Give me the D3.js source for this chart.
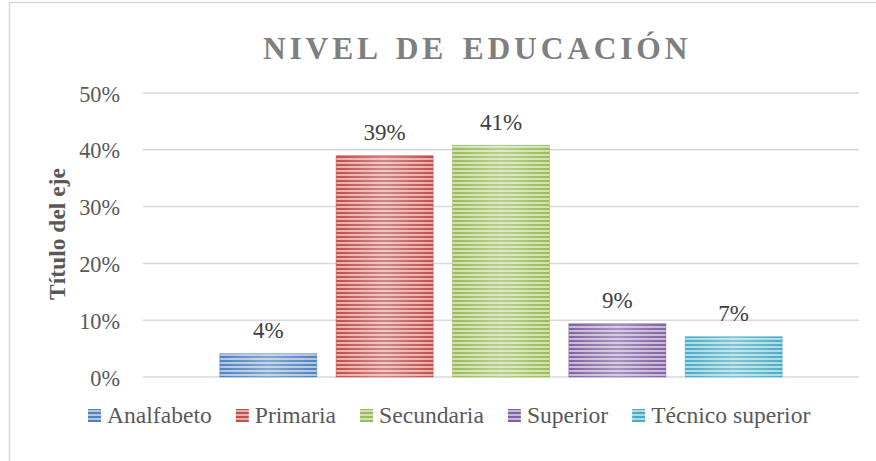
<html>
<meta charset="utf-8">
<body style="margin:0;background:#fff">
<script src="https://d3js.org/d3.v7.min.js"></script>
<div id="chart"></div>
<script>
// chart data
var series = ["Analfabeto", "Primaria", "Secundaria", "Superior", "Técnico superior"]
var values = [0.041, 0.39, 0.408, 0.094, 0.071]
var labels = ["4%", "39%", "41%", "9%", "7%"]
var colors = ["#4F81BD", "#C0504D", "#9BBB59", "#8064A2", "#4BACC6"]
var yTicks = [0, 0.1, 0.2, 0.3, 0.4, 0.5]

var width = 876, height = 461
var font = "'Liberation Serif', 'Times New Roman', Tinos, Times, serif"

var svg = d3.select("#chart").append("svg")
  .attr("width", width).attr("height", height)
  .style("font-family", font)

// outer chart border (cropped on the right and bottom)
svg.append("rect")
  .attr("x", 9.5).attr("y", 2.5)
  .attr("width", 900).attr("height", 500)
  .attr("fill", "none").attr("stroke", "#d9d9d9").attr("stroke-width", 1.5)

var defs = svg.append("defs")
colors.forEach(function(c, i) {
  var p = defs.append("pattern")
    .attr("id", "stripe" + i)
    .attr("patternUnits", "userSpaceOnUse")
    .attr("width", 8).attr("height", 4)
  p.append("rect").attr("width", 8).attr("height", 4)
    .attr("fill", d3.interpolateRgb(c, "#fff")(0.55))
  p.append("rect").attr("width", 8).attr("height", 2).attr("fill", c)
})
var glow = defs.append("linearGradient").attr("id", "glow")
  .attr("x1", 0).attr("x2", 1).attr("y1", 0).attr("y2", 0)
glow.append("stop").attr("offset", 0).attr("stop-color", "#fff").attr("stop-opacity", 0)
glow.append("stop").attr("offset", 0.5).attr("stop-color", "#fff").attr("stop-opacity", 0.3)
glow.append("stop").attr("offset", 1).attr("stop-color", "#fff").attr("stop-opacity", 0)

var x = d3.scaleBand()
  .domain(series)
  .range([143, 859])
  .paddingInner(0.166)
  .paddingOuter(0.66)

var y = d3.scaleLinear()
  .domain([0, 0.5])
  .range([377, 93])

// gridlines
svg.append("g")
  .selectAll("line")
  .data(yTicks)
  .enter().append("line")
    .attr("x1", 143).attr("x2", 859)
    .attr("y1", function(d) { return y(d) })
    .attr("y2", function(d) { return y(d) })
    .attr("stroke", "#d9d9d9").attr("stroke-width", 1.5)

// y axis labels
var yAxis = svg.append("g")
  .attr("transform", "translate(143,0)")
  .call(d3.axisLeft(y).tickValues(yTicks).tickFormat(d3.format(".0%")).tickSize(0).tickPadding(23))
yAxis.select(".domain").remove()
yAxis.attr("font-family", null).attr("font-size", null)
yAxis.selectAll("text")
  .style("font-family", font).style("font-size", "22.3px")
  .attr("fill", "#595959")
  .attr("dy", "0.36em")

// bars
var bars = svg.append("g")
bars.selectAll(".bar")
  .data(values)
  .enter().append("rect")
    .attr("x", function(d, i) { return x(series[i]) })
    .attr("y", function(d) { return y(d) })
    .attr("width", x.bandwidth())
    .attr("height", function(d) { return y(0) - y(d) })
    .attr("fill", function(d, i) { return "url(#stripe" + i + ")" })
    .attr("stroke", function(d, i) { return colors[i] })
    .attr("stroke-opacity", 0.5)
bars.selectAll(".glow")
  .data(values)
  .enter().append("rect")
    .attr("x", function(d, i) { return x(series[i]) })
    .attr("y", function(d) { return y(d) })
    .attr("width", x.bandwidth())
    .attr("height", function(d) { return y(0) - y(d) })
    .attr("fill", "url(#glow)")

// data labels
svg.append("g")
  .selectAll("text")
  .data(values)
  .enter().append("text")
    .attr("x", function(d, i) { return x(series[i]) + x.bandwidth() / 2 })
    .attr("y", function(d) { return y(d) - 15.5 })
    .attr("text-anchor", "middle")
    .style("font-family", font).style("font-size", "23px")
    .attr("fill", "#404040")
    .text(function(d, i) { return labels[i] })

// title
svg.append("text")
  .attr("x", 263).attr("y", 59)
  .style("font-family", font).style("font-size", "31.5px").style("font-weight", "bold")
  .style("letter-spacing", "3.8px").style("word-spacing", "4px")
  .attr("fill", "#7f7f7f")
  .text("NIVEL DE EDUCACIÓN")

// axis title
svg.append("text")
  .attr("transform", "translate(65,234) rotate(-90)")
  .attr("text-anchor", "middle")
  .style("font-family", font).style("font-size", "23.5px").style("font-weight", "bold")
  .attr("fill", "#595959")
  .text("Título del eje")

// legend
var legend = svg.append("g")
var lx = 88
series.forEach(function(s, i) {
  legend.append("rect")
    .attr("x", lx).attr("y", 409)
    .attr("width", 13).attr("height", 13)
    .attr("fill", "url(#stripe" + i + ")")
  var t = legend.append("text")
    .attr("x", lx + 19).attr("y", 423)
    .style("font-family", font).style("font-size", "23.6px")
    .attr("fill", "#595959")
    .text(s)
  lx += 19 + t.node().getComputedTextLength() + 24
})
</script>
</body>
</html>
